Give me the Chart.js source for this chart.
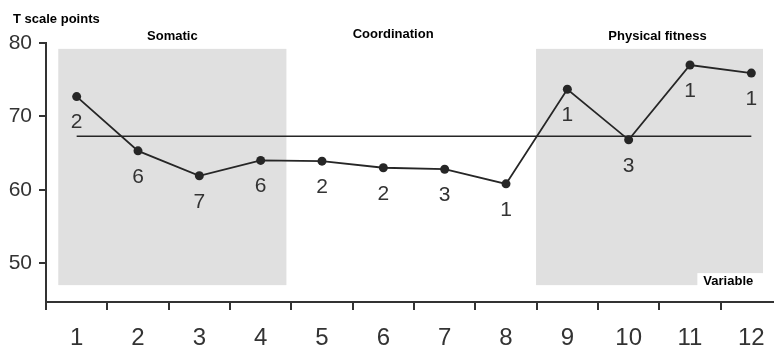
<!DOCTYPE html>
<html>
<head>
<meta charset="utf-8">
<script src="https://cdn.jsdelivr.net/npm/chart.js@4/dist/chart.umd.min.js"></script>
<style>
  html, body { margin: 0; padding: 0; background: #fff; overflow: hidden; }
  #wrap { width: 790px; height: 351px; }
</style>
</head>
<body>
<div id="wrap"><canvas id="myChart"></canvas></div>
<script>
// chart values
const categories = ['1', '2', '3', '4', '5', '6', '7', '8', '9', '10', '11', '12'];
const tScores = [72.7, 65.3, 61.9, 64.0, 63.9, 63.0, 62.8, 60.8, 73.7, 66.8, 77.0, 75.9];
const pointLabels = ['2', '6', '7', '6', '2', '2', '3', '1', '1', '3', '1', '1'];
const referenceLevel = 67.3;
const yTicks = [50, 60, 70, 80];

// shaded groups (in category index units) and group titles
const groups = [
    { name: 'Somatic', from: -0.3, to: 3.42, titleAt: 1.56, shaded: true },
    { name: 'Coordination', from: 3.5, to: 7.5, titleAt: 5.16, shaded: false },
    { name: 'Physical fitness', from: 7.49, to: 11.19, titleAt: 9.47, shaded: true }
];

const ink = '#262626';
const font = '"Liberation Sans", Arial, sans-serif';

const decorPlugin = {
    id: 'decor',
    beforeDatasetsDraw(chart) {
        const { ctx, scales: { x, y }, chartArea } = chart;
        ctx.save();
        ctx.fillStyle = '#e0e0e0';
        groups.forEach(g => {
            if (!g.shaded) return;
            const x0 = x.getPixelForValue(g.from);
            const x1 = x.getPixelForValue(g.to);
            const y0 = y.getPixelForValue(79.2);
            const y1 = y.getPixelForValue(47.0);
            ctx.fillRect(x0, y0, x1 - x0, y1 - y0);
        });
        // white box behind "Variable"
        const bx0 = x.getPixelForValue(10.12);
        const bx1 = x.getPixelForValue(11.19);
        const by1 = y.getPixelForValue(47.0);
        ctx.fillStyle = '#fff';
        ctx.fillRect(bx0, by1 - 12, bx1 - bx0 + 1, 14);
        ctx.fillStyle = '#000';
        ctx.font = 'bold 13px ' + font;
        ctx.textAlign = 'left';
        ctx.textBaseline = 'middle';
        ctx.fillText('Variable', bx0 + 6, by1 - 4);

        // titles
        ctx.textAlign = 'center';
        groups.forEach((g, i) => {
            const ty = chartArea.top - (i === 1 ? 9 : 7);
            ctx.fillText(g.name, x.getPixelForValue(g.titleAt), ty);
        });
        ctx.textAlign = 'left';
        ctx.fillText('T scale points', 13, 19);
        ctx.restore();
    },
    afterDatasetsDraw(chart) {
        const { ctx } = chart;
        const meta = chart.getDatasetMeta(0);
        ctx.save();
        ctx.fillStyle = '#333';
        ctx.font = '21px ' + font;
        ctx.textAlign = 'center';
        ctx.textBaseline = 'middle';
        meta.data.forEach((pt, i) => {
            ctx.fillText(pointLabels[i], pt.x, pt.y + 26);
        });
        ctx.restore();
    }
};

const ctx = document.getElementById('myChart').getContext('2d');
const myChart = new Chart(ctx, {
    type: 'line',
    data: {
        labels: categories,
        datasets: [{
            data: tScores,
            borderColor: ink,
            backgroundColor: ink,
            borderWidth: 1.8,
            pointRadius: 4.5,
            pointBackgroundColor: ink,
            pointBorderWidth: 0,
            tension: 0
        }, {
            data: [{ x: categories[0], y: referenceLevel }, { x: categories[categories.length - 1], y: referenceLevel }],
            borderColor: ink,
            borderWidth: 1.5,
            pointRadius: 0,
            tension: 0
        }]
    },
    options: {
        responsive: true,
        maintainAspectRatio: false,
        animation: false,
        layout: { padding: { top: 43, right: 8, left: 0, bottom: 0 } },
        plugins: {
            legend: { display: false },
            tooltip: { enabled: false }
        },
        scales: {
            x: {
                offset: true,
                grid: {
                    offset: true,
                    drawOnChartArea: false,
                    drawTicks: true,
                    tickLength: 8,
                    color: '#333',
                    lineWidth: 2
                },
                border: { color: '#333', width: 2 },
                ticks: {
                    color: '#333',
                    font: { family: font, size: 24 },
                    padding: 14,
                    maxRotation: 0,
                    autoSkip: false
                },
                afterFit(scale) { scale.height = 49; }
            },
            y: {
                min: 44.7,
                max: 80,
                afterBuildTicks(scale) { scale.ticks = yTicks.map(v => ({ value: v })); },
                grid: {
                    drawOnChartArea: false,
                    drawTicks: true,
                    tickLength: 7,
                    color: '#333',
                    lineWidth: 2
                },
                border: { color: '#333', width: 2 },
                ticks: {
                    color: '#333',
                    font: { family: font, size: 21 },
                    padding: 7
                },
                afterFit(scale) { scale.width = 46; }
            }
        }
    },
    plugins: [decorPlugin]
});
</script>
</body>
</html>
